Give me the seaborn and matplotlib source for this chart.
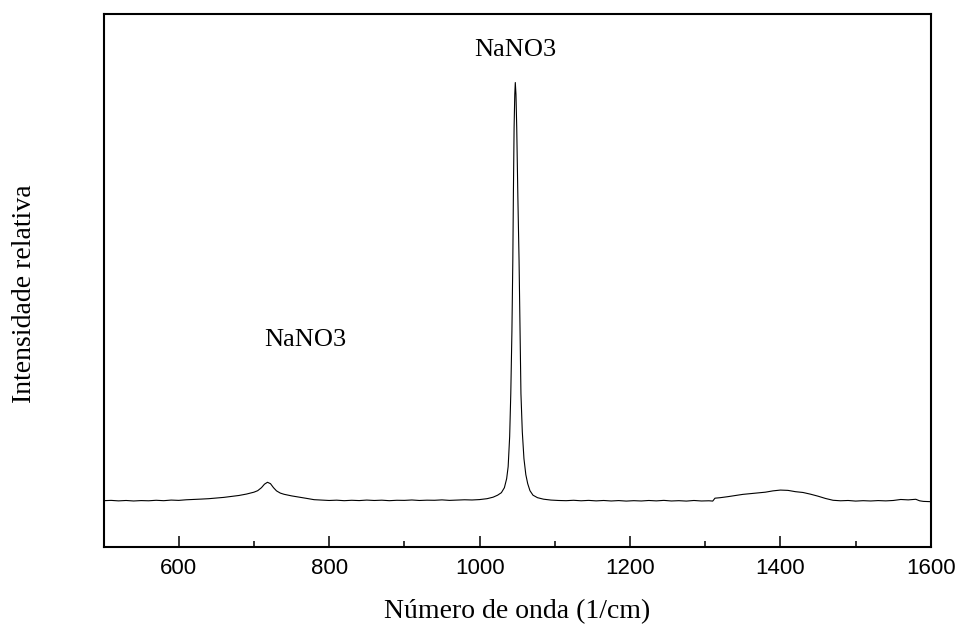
import numpy as np
import pandas as pd
import matplotlib
matplotlib.use('Agg')
import matplotlib.pyplot as plt
import seaborn as sns

# Raman spectrum, values (intensity in arbitrary units)
wavenumber = [500, 510, 520, 530, 540, 550, 560, 570, 580, 590,
              600, 610, 620, 630, 640, 650, 660, 670, 680, 690,
              700, 705, 710, 714, 718, 722, 726, 730, 735, 740,
              745, 750, 760, 770, 780, 790, 800, 810, 820, 830,
              840, 850, 860, 870, 880, 890, 900, 910, 920, 930,
              940, 950, 960, 970, 980, 990, 1000, 1010, 1018, 1024,
              1029, 1033, 1036, 1038, 1040, 1041.5, 1043, 1044.2, 1045, 1045.9,
              1046.8, 1047.5, 1048.4, 1049.4, 1050.9, 1052.5, 1053.8, 1055, 1056.8, 1059,
              1061.5, 1064, 1067, 1071, 1077, 1085, 1095, 1105, 1115, 1125,
              1135, 1145, 1155, 1165, 1175, 1185, 1195, 1205, 1215, 1225,
              1235, 1245, 1255, 1265, 1275, 1285, 1295, 1305, 1310, 1313,
              1320, 1330, 1340, 1350, 1360, 1370, 1380, 1390, 1400, 1410,
              1420, 1430, 1440, 1450, 1460, 1470, 1480, 1490, 1500, 1510,
              1520, 1530, 1540, 1550, 1560, 1570, 1580, 1585, 1590, 1600]
intensity = [46.0, 46.3, 45.8, 46.2, 45.7, 46.1, 45.9, 46.4, 46.0, 46.6,
             46.3, 46.9, 47.2, 47.6, 48.0, 48.6, 49.3, 50.2, 51.2, 52.6,
             54.5, 56.0, 59.0, 62.5, 64.4, 63.0, 59.0, 55.8, 53.6, 52.4,
             51.6, 50.8, 49.6, 48.3, 47.0, 46.6, 46.2, 46.5, 46.0, 46.4,
             46.1, 46.6, 46.2, 46.5, 46.0, 46.4, 46.3, 46.7, 46.2, 46.5,
             46.4, 46.8, 46.3, 46.6, 46.9, 46.7, 47.1, 48.0, 49.5, 51.5,
             54.0, 59.0, 68.0, 80.0, 110, 153, 215, 286, 355, 419,
             452, 464, 452, 419, 350, 286, 215, 153, 115, 88,
             72, 63, 56, 51.5, 49.0, 47.5, 46.6, 46.2, 46.0, 46.4,
             45.9, 46.3, 45.8, 46.2, 45.7, 46.1, 45.6, 46.0, 45.7, 46.2,
             45.8, 46.3, 45.7, 46.0, 45.6, 46.2, 45.7, 45.9, 45.6, 48.5,
             49.0, 50.0, 51.2, 52.3, 53.0, 53.8, 54.5, 55.8, 56.6, 56.3,
             55.0, 54.2, 52.5, 50.5, 48.2, 46.4, 45.9, 46.2, 45.6, 46.0,
             45.7, 46.1, 45.8, 46.2, 47.2, 46.8, 47.4, 45.9, 45.3, 45.0]

peak_labels = ['NaNO3', 'NaNO3']
peak_pos = [1047, 768]
peak_height = [497, 207]

df = pd.DataFrame({'wavenumber': wavenumber, 'intensity': intensity})

sns.set_style('ticks')
plt.rcParams['font.family'] = ['Liberation Serif', 'DejaVu Serif']
plt.rcParams['text.color'] = 'black'
plt.rcParams['axes.labelcolor'] = 'black'
plt.rcParams['xtick.color'] = 'black'

fig = plt.figure(figsize=(9.63, 6.31), dpi=100)
ax = fig.add_axes([0.1075, 0.1336, 0.8591, 0.8450])

sns.lineplot(data=df, x='wavenumber', y='intensity', color='black', linewidth=0.8, ax=ax)

for lab, xp, yp in zip(peak_labels, peak_pos, peak_height):
    ax.text(xp, yp, lab, ha='center', va='center', fontsize=19, color='black')

ax.set_xlim(500, 1600)
ax.set_ylim(0, 533)
ax.set_xticks([600, 800, 1000, 1200, 1400, 1600])
ax.set_xticks(np.arange(500, 1601, 100), minor=True)
ax.set_yticks([])
ax.tick_params(axis='x', which='major', direction='in', length=8, width=1.1,
               pad=8, labelsize=16, top=False, colors='black')
ax.tick_params(axis='x', which='minor', direction='in', length=4.3, width=1.1,
               top=False, colors='black')
for lbl in ax.get_xticklabels():
    lbl.set_family(['Liberation Sans', 'DejaVu Sans'])
for sp in ax.spines.values():
    sp.set_linewidth(1.5)
    sp.set_color('black')

ax.set_xlabel('Número de onda (1/cm)', fontsize=20, color='black')
ax.set_ylabel('Intensidade relativa', fontsize=20, color='black')
ax.xaxis.set_label_coords(0.5, -0.122)
ax.xaxis.label.set_va('center')
ax.yaxis.set_label_coords(-0.0961, 0.474)
ax.yaxis.label.set_va('center')

fig.savefig('out.png', dpi=100)
